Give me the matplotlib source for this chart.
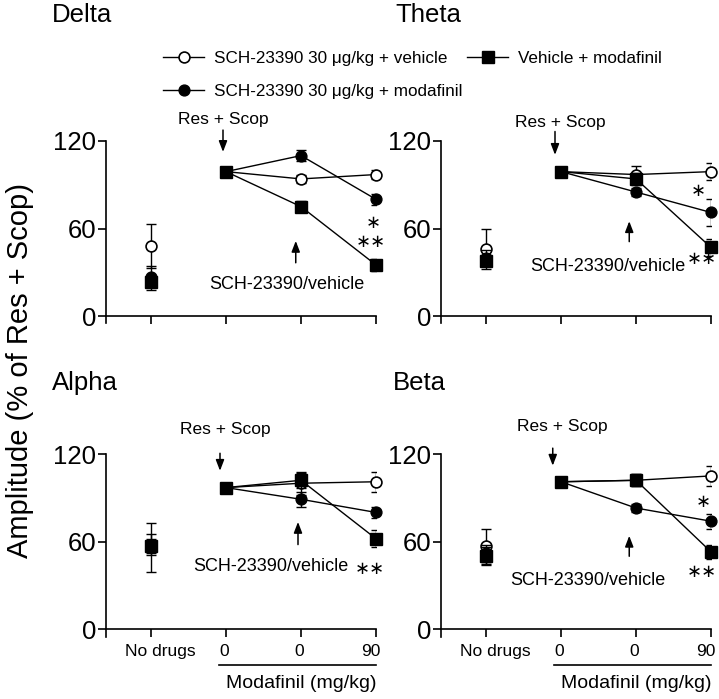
import matplotlib
matplotlib.use('Agg')
import matplotlib.pyplot as plt
import matplotlib.transforms as mtransforms

plt.rcParams['font.family'] = ['Liberation Sans', 'DejaVu Sans']

# ---------------- data ----------------
x_pos = [0, 1, 2, 3]
x_labels = ['No drugs', '0', '0', '90']
panels = ['Delta', 'Theta', 'Alpha', 'Beta']
series_labels = ['SCH-23390 30 \u03bcg/kg + vehicle',
                 'SCH-23390 30 \u03bcg/kg + modafinil',
                 'Vehicle + modafinil']

# SCH-23390 + vehicle (open circles)
delta_sch_veh = [48, 99, 94, 97]
delta_sch_veh_err = [15, 0, 3, 3]
theta_sch_veh = [46, 99, 97, 99]
theta_sch_veh_err = [14, 0, 6, 6]
alpha_sch_veh = [56, 97, 100, 101]
alpha_sch_veh_err = [17, 0, 8, 7]
beta_sch_veh = [57, 101, 102, 105]
beta_sch_veh_err = [12, 0, 4, 7]

# SCH-23390 + modafinil (filled circles)
delta_sch_mod = [27, 99, 110, 80]
delta_sch_mod_err = [7, 0, 4, 4]
theta_sch_mod = [40, 99, 85, 71]
theta_sch_mod_err = [5, 0, 3, 9]
alpha_sch_mod = [58, 97, 89, 80]
alpha_sch_mod_err = [7, 0, 5, 4]
beta_sch_mod = [52, 101, 83, 74]
beta_sch_mod_err = [6, 0, 3, 5]

# Vehicle + modafinil (filled squares)
delta_veh_mod = [23, 99, 75, 35]
delta_veh_mod_err = [5, 0, 4, 4]
theta_veh_mod = [38, 99, 94, 47]
theta_veh_mod_err = [4, 0, 4, 6]
alpha_veh_mod = [57, 97, 102, 62]
alpha_veh_mod_err = [5, 0, 5, 6]
beta_veh_mod = [50, 101, 102, 53]
beta_veh_mod_err = [6, 0, 4, 5]

data = {
    'Delta': [(delta_sch_veh, delta_sch_veh_err), (delta_sch_mod, delta_sch_mod_err), (delta_veh_mod, delta_veh_mod_err)],
    'Theta': [(theta_sch_veh, theta_sch_veh_err), (theta_sch_mod, theta_sch_mod_err), (theta_veh_mod, theta_veh_mod_err)],
    'Alpha': [(alpha_sch_veh, alpha_sch_veh_err), (alpha_sch_mod, alpha_sch_mod_err), (alpha_veh_mod, alpha_veh_mod_err)],
    'Beta': [(beta_sch_veh, beta_sch_veh_err), (beta_sch_mod, beta_sch_mod_err), (beta_veh_mod, beta_veh_mod_err)],
}

# ---------------- layout ----------------
W, H = 719, 699
fig = plt.figure(figsize=(W / 100, H / 100), dpi=100)

YMIN, YMAX = -5, 120
rects_px = {  # left, top(y=120), right, y=0 pixel
    'Delta': (106, 141, 376, 316),
    'Theta': (441, 141, 711, 316),
    'Alpha': (106, 454, 376, 629.3),
    'Beta': (441, 454, 711, 629.3),
}

# annotation layout (data coords)
ann = {
    'Delta': dict(res=(0.97, 135), res_arrow=(0.96, 127.5, 112.5),
                  sch_arrow=(1.93, 36.5, 51.5), sch_text=(1.81, 21.5),
                  stars=[(2.96, 64, '\u2217'), (2.93, 50.5, '\u2217\u2217')]),
    'Theta': dict(res=(0.99, 132.5), res_arrow=(0.92, 126.5, 110.5),
                  sch_arrow=(1.91, 51, 65), sch_text=(1.63, 34),
                  stars=[(2.83, 86, '\u2217'), (2.88, 39, '\u2217\u2217')]),
    'Alpha': dict(res=(0.99, 136.5), res_arrow=(0.92, 120.5, 108.5),
                  sch_arrow=(1.96, 58, 73.5), sch_text=(1.6, 43),
                  stars=[(2.92, 41.3, '\u2217\u2217')]),
    'Beta': dict(res=(1.02, 139), res_arrow=(0.89, 124, 112),
                 sch_arrow=(1.91, 50, 64), sch_text=(1.36, 33.3),
                 stars=[(2.9, 87, '\u2217'), (2.88, 39.2, '\u2217\u2217')]),
}

styles = [
    dict(marker='o', ms=7.8, mfc='white', mec='black', mew=1.2, zorder=3),
    dict(marker='o', ms=7.8, mfc='black', mec='black', mew=1.0, zorder=4),
    dict(marker='s', ms=8.8, mfc='black', mec='black', mew=1.0, zorder=5),
]

label_offsets_pt = [6.5, -1.5, -1.5, -4.0]
arrow_props = dict(arrowstyle='-|>,head_width=0.25,head_length=0.65', color='black', lw=1.1,
                   shrinkA=0, shrinkB=0, mutation_scale=10)

handles = []
for name in panels:
    l, t, r, y0 = rects_px[name]
    unit = (y0 - t) / 120.0
    bottom_px = y0 - YMIN * unit
    ax = fig.add_axes([l / W, 1 - bottom_px / H, (r - l) / W, (bottom_px - t) / H])
    ax.set_xlim(-0.6, 3)
    ax.set_ylim(YMIN, YMAX)
    ax.patch.set_visible(False)
    for s in ['top', 'right']:
        ax.spines[s].set_visible(False)
    ax.spines['bottom'].set_position(('data', 0))
    for s in ['left', 'bottom']:
        ax.spines[s].set_linewidth(1.2)
    ax.set_yticks([0, 60, 120])
    ax.set_xticks(x_pos)
    bottom_row = name in ('Alpha', 'Beta')
    ax.tick_params(axis='y', direction='out', length=6, width=1.2, labelsize=18.5, pad=1)
    ax.tick_params(axis='x', direction='out', length=5.5, width=1.2, labelsize=12.5, pad=5,
                   labelbottom=bottom_row)
    if bottom_row:
        ax.set_xticklabels(x_labels)
        for lab, off in zip(ax.get_xticklabels(), label_offsets_pt):
            lab.set_transform(lab.get_transform() +
                              mtransforms.ScaledTranslation(off / 72, 0, fig.dpi_scale_trans))

    for (vals, errs), st, lbl in zip(data[name], styles, series_labels):
        ax.errorbar(x_pos[:1], vals[:1], yerr=errs[:1], fmt='none', ecolor='black',
                    elinewidth=1.0, capsize=3.5, capthick=1.0, zorder=st['zorder'] - 0.5)
        ax.plot(x_pos[:1], vals[:1], linestyle='none', clip_on=False, **st)
        ax.errorbar(x_pos[1:], vals[1:], yerr=errs[1:], fmt='none', ecolor='black',
                    elinewidth=1.0, capsize=3.5, capthick=1.0, zorder=st['zorder'] - 0.5)
        h, = ax.plot(x_pos[1:], vals[1:], color='black', lw=1.0, clip_on=False, label=lbl, **st)
        if name == 'Delta':
            handles.append(h)

    a = ann[name]
    ax.text(a['res'][0], a['res'][1], 'Res + Scop', ha='center', va='center', fontsize=12.5)
    ax.annotate('', xy=(a['res_arrow'][0], a['res_arrow'][2]), xytext=(a['res_arrow'][0], a['res_arrow'][1]),
                arrowprops=arrow_props, annotation_clip=False)
    ax.annotate('', xy=(a['sch_arrow'][0], a['sch_arrow'][2]), xytext=(a['sch_arrow'][0], a['sch_arrow'][1]),
                arrowprops=arrow_props, annotation_clip=False)
    ax.text(a['sch_text'][0], a['sch_text'][1], 'SCH-23390/vehicle', ha='center', va='center', fontsize=13)
    for sx, sy, st_txt in a['stars']:
        ax.text(sx, sy, st_txt, ha='center', va='center', fontsize=13, family='DejaVu Sans')

    if bottom_row:
        ax.plot([0.9, 3.0], [-24.4, -24.4], color='black', lw=1.2, clip_on=False)
        ax.text(2.0, -37, 'Modafinil (mg/kg)', ha='center', va='center', fontsize=14)

# panel titles
fig.text(52 / W, 1 - 15 / H, 'Delta', fontsize=18.5, ha='left', va='center')
fig.text(395 / W, 1 - 15 / H, 'Theta', fontsize=18.5, ha='left', va='center')
fig.text(52 / W, 1 - 383 / H, 'Alpha', fontsize=18.5, ha='left', va='center')
fig.text(393 / W, 1 - 383 / H, 'Beta', fontsize=18.5, ha='left', va='center')

# y label
fig.text(20 / W, 1 - 370 / H, 'Amplitude (% of Res + Scop)', rotation=90, fontsize=21,
         ha='center', va='center')

# legend
leg = fig.legend([handles[0], handles[1], handles[2]], series_labels, ncol=2,
                 loc='upper left', bbox_to_anchor=(163 / W, 1 - 51 / H), frameon=False,
                 fontsize=12.3, handlelength=2.4, handletextpad=0.6, columnspacing=0.25,
                 labelspacing=1.05, borderpad=0, borderaxespad=0, numpoints=1)

fig.savefig('out.png', dpi=100)
